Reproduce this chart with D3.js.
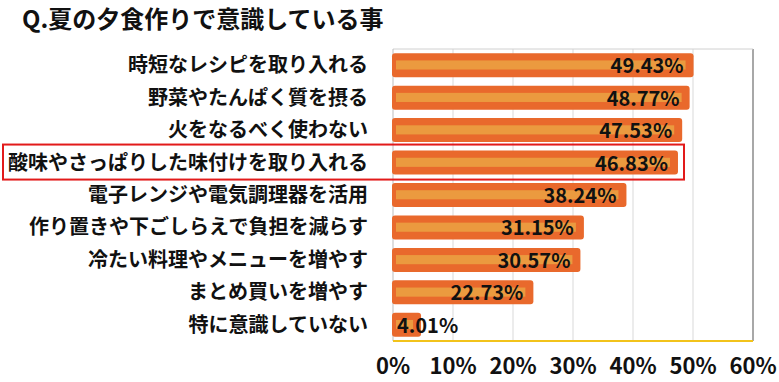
<!DOCTYPE html>
<html lang="ja">
<head>
  <meta charset="UTF-8">
  <title>Q.夏の夕食作りで意識している事</title>
  <script src="https://d3js.org/d3.v7.min.js"></script>
  <style>
    body { margin: 0; background: #fff; }
    text { font-family: "Noto Sans CJK JP", "Noto Sans", sans-serif; font-weight: bold; fill: #111; }
  </style>
</head>
<body>
  <div id="chart"></div>
  <script>
    const categories = [
      "時短なレシピを取り入れる",
      "野菜やたんぱく質を摂る",
      "火をなるべく使わない",
      "酸味やさっぱりした味付けを取り入れる",
      "電子レンジや電気調理器を活用",
      "作り置きや下ごしらえで負担を減らす",
      "冷たい料理やメニューを増やす",
      "まとめ買いを増やす",
      "特に意識していない"
    ];
    const values = [49.43, 48.77, 47.53, 46.83, 38.24, 31.15, 30.57, 22.73, 4.01];
    const ticks = [0, 10, 20, 30, 40, 50, 60];
    const highlighted = "酸味やさっぱりした味付けを取り入れる";

    const width = 779, height = 382;
    const plotLeft = 393, plotRight = 753, plotTop = 49, plotBottom = 341;

    const svg = d3.select("#chart").append("svg")
      .attr("width", width)
      .attr("height", height);

    const x = d3.scaleLinear().domain([0, 60]).range([plotLeft, plotRight]);
    const y = d3.scaleBand().domain(categories).range([plotTop, plotBottom])
      .paddingInner(0.26).paddingOuter(0.13);

    // title
    svg.append("text")
      .attr("x", 22)
      .attr("y", 28)
      .style("font-size", "24px")
      .text("Q.夏の夕食作りで意識している事");

    // gridlines
    svg.selectAll(".grid")
      .data(ticks.slice(1))
      .enter().append("line")
      .attr("x1", d => x(d)).attr("x2", d => x(d))
      .attr("y1", plotTop).attr("y2", plotBottom)
      .attr("stroke", d => d === 60 ? "#a8a8a8" : "#d9d9d9")
      .attr("stroke-width", d => d === 60 ? 2 : 1);

    svg.append("line")
      .attr("x1", plotLeft).attr("x2", plotRight)
      .attr("y1", plotTop).attr("y2", plotTop)
      .attr("stroke", "#d0d0d0");

    svg.append("line")
      .attr("x1", plotLeft).attr("x2", plotLeft)
      .attr("y1", plotTop).attr("y2", plotBottom)
      .attr("stroke", "#bdbdbd");

    // bars
    const bars = svg.selectAll(".bar")
      .data(values)
      .enter().append("g")
      .attr("class", "bar");

    bars.append("rect")
      .attr("x", x(0) - 1)
      .attr("y", (d, i) => y(categories[i]))
      .attr("width", d => x(d) - x(0) + 5)
      .attr("height", y.bandwidth())
      .attr("rx", 3)
      .attr("fill", "#e9692c");

    bars.append("rect")
      .attr("x", x(0) + 3)
      .attr("y", (d, i) => y(categories[i]) + y.bandwidth() * 0.3)
      .attr("width", d => Math.max(0, x(d) - x(0) - 7))
      .attr("height", y.bandwidth() * 0.38)
      .attr("fill", "#eb9a3f");

    // value labels
    bars.append("text")
      .attr("x", d => x(d) - x(0) > 70 ? x(d) - 6 : x(0) + 4)
      .attr("y", (d, i) => y(categories[i]) + y.bandwidth() / 2 + 8)
      .attr("text-anchor", d => x(d) - x(0) > 70 ? "end" : "start")
      .style("font-size", "20px")
      .text(d => d.toFixed(2) + "%");

    // category labels
    svg.selectAll(".cat")
      .data(categories)
      .enter().append("text")
      .attr("x", 368)
      .attr("y", d => y(d) + y.bandwidth() / 2 + 7)
      .attr("text-anchor", "end")
      .style("font-size", "20px")
      .text(d => d);

    // bottom axis line
    svg.append("line")
      .attr("x1", plotLeft).attr("x2", plotRight)
      .attr("y1", plotBottom).attr("y2", plotBottom)
      .attr("stroke", "#f2c31b")
      .attr("stroke-width", 2);

    // tick labels
    svg.selectAll(".tick-label")
      .data(ticks)
      .enter().append("text")
      .attr("x", d => x(d))
      .attr("y", 374)
      .attr("text-anchor", "middle")
      .style("font-size", "22px")
      .text(d => d + "%");

    // highlight box
    const hy = y(highlighted);
    svg.append("rect")
      .attr("x", 3)
      .attr("y", hy - 6)
      .attr("width", 681)
      .attr("height", y.bandwidth() + 11)
      .attr("fill", "none")
      .attr("stroke", "#e21a1a")
      .attr("stroke-width", 2);
  </script>
</body>
</html>
